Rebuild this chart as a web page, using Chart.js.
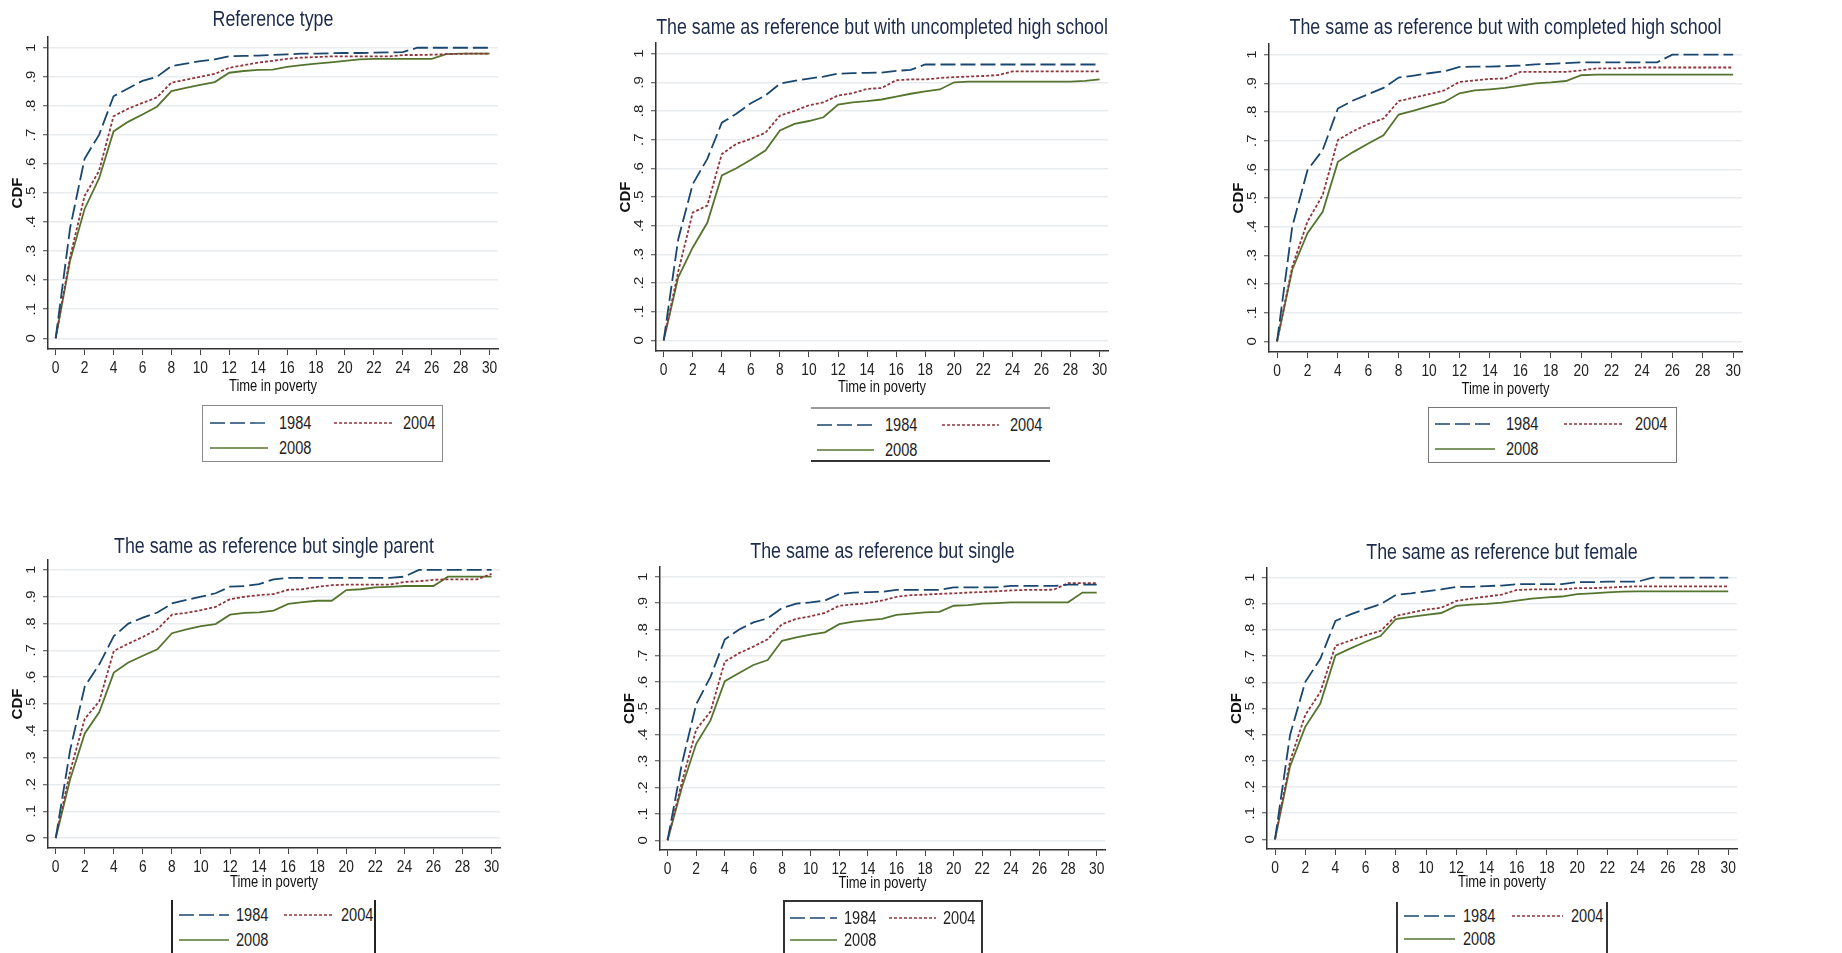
<!DOCTYPE html>
<html>
<head>
<meta charset="utf-8">
<title>CDF of time in poverty</title>
<script src="https://cdn.jsdelivr.net/npm/chart.js@4.4.1/dist/chart.umd.min.js"></script>
<style>
  html, body { margin: 0; padding: 0; background: #fff; }
  body { position: relative; width: 1842px; height: 953px; overflow: hidden; }
  canvas { position: absolute; }
  .legend { position: absolute; box-sizing: border-box; }
  .legend svg { position: absolute; }
  .legend span { position: absolute; color: #222; white-space: nowrap; transform-origin: left center; }
</style>
</head>
<body>
<script>
// x: years in poverty, y: cumulative share
const timeInPoverty = [0, 1, 2, 3, 4, 5, 6, 7, 8, 9, 10, 11, 12, 13, 14, 15, 16, 17, 18, 19, 20, 21, 22, 23, 24, 25, 26, 27, 28, 29, 30];
const xTicks = [0, 2, 4, 6, 8, 10, 12, 14, 16, 18, 20, 22, 24, 26, 28, 30];
const cdfTicks = [0, 0.1, 0.2, 0.3, 0.4, 0.5, 0.6, 0.7, 0.8, 0.9, 1];
const cdfTickLabels = ["0", ".1", ".2", ".3", ".4", ".5", ".6", ".7", ".8", ".9", "1"];
const seriesNames = ["1984", "2004", "2008"];

const panelTitles = [
  "Reference type",
  "The same as reference but with uncompleted high school",
  "The same as reference but with completed high school",
  "The same as reference but single parent",
  "The same as reference but single",
  "The same as reference but female",
];

const refType1984 = [0, .38, .618, .70, .833, .86, .886, .90, .937, .945, .954, .96, .971, .972, .973, .975, .977, .98, .98, .981, .982, .982, .983, .984, .985, 1, 1, 1, 1, 1, 1];
const refType2004 = [0, .28, .49, .576, .764, .79, .81, .829, .88, .89, .90, .91, .931, .94, .949, .955, .962, .966, .968, .97, .97, .97, .97, .97, .975, .975, .976, .978, .979, .98, .98];
const refType2008 = [0, .268, .445, .55, .712, .745, .77, .797, .851, .862, .872, .882, .914, .92, .924, .925, .934, .94, .945, .95, .955, .96, .962, .962, .962, .962, .962, .978, .98, .98, .98];

const noHighSchool1984 = [0, .353, .545, .633, .759, .79, .827, .854, .895, .905, .913, .92, .93, .932, .933, .934, .94, .943, .962, .962, .962, .962, .962, .962, .962, .962, .962, .962, .962, .962, .962];
const noHighSchool2004 = [0, .24, .446, .47, .65, .685, .703, .724, .784, .80, .82, .83, .854, .862, .877, .88, .907, .91, .91, .915, .918, .92, .922, .925, .938, .938, .938, .938, .938, .938, .938];
const noHighSchool2008 = [0, .22, .324, .41, .575, .60, .63, .662, .732, .755, .765, .778, .822, .83, .834, .84, .85, .86, .868, .875, .90, .902, .902, .902, .902, .902, .902, .902, .902, .905, .91];

const highSchool1984 = [0, .40, .597, .667, .812, .84, .862, .884, .92, .927, .935, .942, .957, .958, .958, .96, .962, .966, .968, .97, .973, .973, .973, .973, .973, .973, 1, 1, 1, 1, 1];
const highSchool2004 = [0, .26, .418, .51, .702, .733, .758, .777, .838, .85, .862, .875, .905, .91, .915, .917, .94, .94, .94, .94, .945, .952, .952, .953, .955, .955, .955, .955, .955, .955, .955];
const highSchool2008 = [0, .25, .377, .452, .626, .66, .69, .719, .791, .805, .82, .835, .865, .875, .879, .884, .892, .90, .903, .908, .928, .93, .93, .93, .93, .93, .93, .93, .93, .93, .93];

const singleParent1984 = [0, .33, .565, .648, .753, .80, .822, .841, .875, .888, .90, .913, .9375, .94, .947, .965, .97, .97, .97, .97, .97, .97, .97, .97, .975, 1, 1, 1, 1, 1, 1];
const singleParent2004 = [0, .25, .445, .51, .698, .725, .75, .779, .833, .84, .85, .862, .891, .90, .906, .91, .926, .928, .937, .943, .945, .945, .945, .945, .955, .958, .963, .965, .965, .965, .985];
const singleParent2008 = [0, .22, .39, .47, .617, .655, .68, .704, .764, .778, .79, .798, .833, .84, .842, .848, .873, .88, .885, .885, .925, .928, .935, .937, .94, .94, .94, .975, .975, .975, .975];

const single1984 = [0, .29, .516, .62, .762, .80, .827, .842, .881, .898, .903, .91, .934, .94, .942, .943, .95, .95, .95, .95, .96, .96, .96, .96, .965, .965, .965, .965, .97, .97, .97];
const single2004 = [0, .22, .42, .488, .678, .71, .735, .763, .82, .84, .85, .863, .89, .895, .90, .91, .924, .93, .932, .935, .937, .94, .942, .945, .948, .95, .95, .951, .976, .976, .976];
const single2008 = [0, .20, .366, .455, .604, .635, .665, .684, .757, .77, .78, .789, .82, .83, .835, .84, .855, .86, .865, .867, .89, .892, .898, .90, .903, .903, .903, .903, .903, .94, .94];

const female1984 = [0, .40, .601, .69, .835, .86, .88, .899, .934, .94, .948, .955, .965, .965, .968, .97, .975, .975, .975, .975, .983, .983, .985, .985, .985, 1, 1, 1, 1, 1, 1];
const female2004 = [0, .30, .475, .563, .74, .76, .78, .797, .854, .866, .878, .885, .911, .92, .928, .935, .953, .955, .955, .955, .96, .96, .962, .965, .967, .967, .967, .967, .967, .967, .967];
const female2008 = [0, .28, .43, .519, .703, .73, .755, .778, .842, .85, .858, .865, .892, .897, .90, .905, .912, .92, .925, .928, .937, .94, .944, .947, .948, .948, .948, .948, .948, .948, .948];

const panelSeries = [
  [refType1984, refType2004, refType2008],
  [noHighSchool1984, noHighSchool2004, noHighSchool2008],
  [highSchool1984, highSchool2004, highSchool2008],
  [singleParent1984, singleParent2004, singleParent2008],
  [single1984, single2004, single2008],
  [female1984, female2004, female2008],
];

// stata s2color: navy, maroon, forest green
const lineStyles = [
  { color: "#1a476f", dash: [15, 5] },
  { color: "#90353b", dash: [3, 2] },
  { color: "#55752f", dash: [] },
];

// where each plot region sits on the page (chart area l,t,r,b)
const panelLayout = [
  { area: [48, 37, 498, 349], titleY: 20, xTitle: 38,
    legend: { x: 202, y: 405, w: 241, h: 57, border: "1px solid #8a8a8a", rows: [17, 42], cols: [7, 131], sampleW: 58, gap: 11 } },
  { area: [656, 43, 1108, 351], titleY: 28, xTitle: 37,
    legend: { x: 811, y: 407, w: 239, h: 55, border: "none", borderTop: "2px solid #9a9a9a", borderBottom: "2px solid #333", rows: [16, 41], cols: [6, 131], sampleW: 57, gap: 11 } },
  { area: [1269, 44, 1742, 352], titleY: 28, xTitle: 38,
    legend: { x: 1428, y: 407, w: 249, h: 56, border: "1px solid #777", rows: [16, 41], cols: [6, 135], sampleW: 60, gap: 11 } },
  { area: [48, 560, 500, 848], titleY: 547, xTitle: 35,
    legend: { x: 171, y: 900, w: 205, h: 60, border: "none", borderLeft: "2px solid #222", borderRight: "2px solid #222", rows: [15, 40], cols: [6, 111], sampleW: 50, gap: 7 } },
  { area: [660, 567, 1105, 850], titleY: 552, xTitle: 34,
    legend: { x: 783, y: 900, w: 200, h: 60, border: "none", borderLeft: "2px solid #333", borderTop: "2px solid #333", borderRight: "2px solid #333", rows: [16, 38], cols: [5, 104], sampleW: 47, gap: 7 } },
  { area: [1267, 568, 1737, 849], titleY: 553, xTitle: 34,
    legend: { x: 1396, y: 902, w: 212, h: 60, border: "none", borderLeft: "2px solid #333", borderRight: "2px solid #333", rows: [14, 37], cols: [6, 114], sampleW: 51, gap: 8 } },
];

const FONT = "'Liberation Sans', Arial, sans-serif";
const SQUEEZE = 0.81; // the source figure is narrower than it is tall
const Y_AXIS_W = 48;
const X_AXIS_H = 52;
const RIGHT_PAD = 12;

function squeezedText(ctx, text, x, y, rotate) {
  ctx.save();
  ctx.translate(x, y);
  ctx.scale(SQUEEZE, 1);
  if (rotate) ctx.rotate(rotate);
  ctx.fillText(text, 0, 0);
  ctx.restore();
}

// Stata-style text: title, rotated y labels, condensed x labels and axis title
const stataText = {
  id: "stataText",
  afterDraw(chart, args, opts) {
    const { ctx, chartArea } = chart;
    const xScale = chart.scales.x;
    const yScale = chart.scales.y;
    const midX = (chartArea.left + chartArea.right) / 2;
    ctx.save();
    ctx.textAlign = "center";
    ctx.textBaseline = "middle";

    ctx.fillStyle = "#1c2b4a";
    ctx.font = "22px " + FONT;
    squeezedText(ctx, opts.title, midX, opts.titleY);

    ctx.fillStyle = "#222";
    ctx.font = "15px " + FONT;
    cdfTicks.forEach((v, i) => {
      squeezedText(ctx, cdfTickLabels[i], chartArea.left - 16, yScale.getPixelForValue(v), -Math.PI / 2);
    });

    ctx.font = "17px " + FONT;
    xTicks.forEach((v) => {
      squeezedText(ctx, String(v), xScale.getPixelForValue(v), chartArea.bottom + 19.5);
    });

    ctx.fillStyle = "#111";
    ctx.font = "16px " + FONT;
    squeezedText(ctx, "Time in poverty", midX, chartArea.bottom + opts.xTitle);
    ctx.restore();
  },
};

function buildLegend(chart, cfg) {
  const box = document.createElement("div");
  box.className = "legend";
  Object.assign(box.style, {
    left: cfg.x + "px", top: cfg.y + "px", width: cfg.w + "px", height: cfg.h + "px",
    border: cfg.border,
  });
  ["borderTop", "borderBottom", "borderLeft", "borderRight"].forEach((k) => {
    if (cfg[k]) box.style[k] = cfg[k];
  });
  chart.data.datasets.forEach((ds, i) => {
    const row = cfg.rows[i < 2 ? 0 : 1];
    const left = cfg.cols[i % 2];
    const svg = document.createElementNS("http://www.w3.org/2000/svg", "svg");
    svg.setAttribute("width", cfg.sampleW);
    svg.setAttribute("height", 4);
    svg.style.left = left + "px";
    svg.style.top = row - 2 + "px";
    const line = document.createElementNS("http://www.w3.org/2000/svg", "line");
    line.setAttribute("x1", 0);
    line.setAttribute("x2", cfg.sampleW);
    line.setAttribute("y1", 2);
    line.setAttribute("y2", 2);
    line.setAttribute("stroke", ds.borderColor);
    line.setAttribute("stroke-width", 1.4);
    if (ds.borderDash.length) line.setAttribute("stroke-dasharray", ds.borderDash.join(" "));
    svg.appendChild(line);
    box.appendChild(svg);

    const label = document.createElement("span");
    label.textContent = ds.label;
    label.style.font = "18px " + FONT;
    label.style.lineHeight = "20px";
    label.style.transform = "scaleX(" + SQUEEZE + ")";
    label.style.left = left + cfg.sampleW + cfg.gap + "px";
    label.style.top = row - 10 + "px";
    box.appendChild(label);
  });
  document.body.appendChild(box);
}

function makePanel(idx) {
  const lay = panelLayout[idx];
  const [aL, aT, aR, aB] = lay.area;
  const cx = aL - Y_AXIS_W;
  const cy = lay.titleY - 20;
  const cw = aR - cx + RIGHT_PAD;
  const ch = aB + X_AXIS_H - cy;

  const canvas = document.createElement("canvas");
  canvas.width = cw;
  canvas.height = ch;
  canvas.style.left = cx + "px";
  canvas.style.top = cy + "px";
  document.body.appendChild(canvas);

  const datasets = panelSeries[idx].map((values, i) => ({
    label: seriesNames[i],
    data: timeInPoverty.map((t, k) => ({ x: t, y: values[k] })),
    borderColor: lineStyles[i].color,
    borderDash: lineStyles[i].dash,
    borderWidth: 1.8,
    pointRadius: 0,
    tension: 0,
    fill: false,
  }));

  const chart = new Chart(canvas, {
    type: "line",
    data: { datasets },
    options: {
      responsive: false,
      animation: false,
      devicePixelRatio: 1,
      layout: { padding: { left: 0, top: aT - cy, right: RIGHT_PAD, bottom: 0 } },
      plugins: {
        legend: { display: false },
        tooltip: { enabled: false },
        title: { display: false },
        stataText: { title: panelTitles[idx], titleY: lay.titleY - cy, xTitle: lay.xTitle },
      },
      scales: {
        x: {
          type: "linear",
          min: -0.53,
          max: 30.58,
          afterBuildTicks: (s) => { s.ticks = xTicks.map((v) => ({ value: v })); },
          afterFit: (s) => { s.height = X_AXIS_H; },
          ticks: { display: false },
          grid: { display: true, drawOnChartArea: false, drawTicks: true, tickLength: 6, tickColor: "#444", tickWidth: 1 },
          border: { display: true, color: "#333", width: 1.5 },
        },
        y: {
          min: -0.037,
          max: 1.037,
          afterBuildTicks: (s) => { s.ticks = cdfTicks.map((v) => ({ value: v })); },
          afterFit: (s) => { s.width = Y_AXIS_W; },
          ticks: { display: false },
          grid: { color: "#e8ecef", lineWidth: 1.5, drawTicks: true, tickLength: 5, tickColor: "#444", tickWidth: 1 },
          border: { display: true, color: "#333", width: 1.5 },
          title: {
            display: true,
            text: "CDF",
            color: "#111",
            font: { family: FONT, size: 15, weight: "bold", lineHeight: 1.2 },
            padding: { top: 9, bottom: 0 },
          },
        },
      },
    },
    plugins: [stataText],
  });

  buildLegend(chart, lay.legend);
}

document.addEventListener("DOMContentLoaded", () => {
  panelTitles.forEach((_, i) => makePanel(i));
});
</script>
</body>
</html>
